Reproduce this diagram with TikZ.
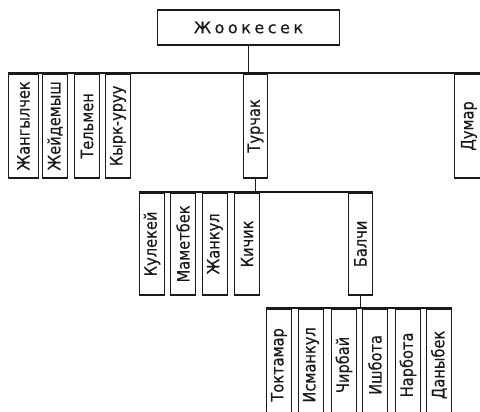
\documentclass[tikz,border=0pt]{standalone}
\usepackage{fontspec}
\setmainfont{DejaVu Sans}
\usetikzlibrary{positioning,calc}
\definecolor{ink}{HTML}{1A1A1A}
\definecolor{paper}{HTML}{FFFFFF}
\tikzset{
  head/.style={draw=ink, line width=1.8pt, fill=paper, minimum width=182pt, minimum height=35pt, inner sep=0pt, text=ink,
    font=\fontsize{16}{18}\selectfont\addfontfeature{LetterSpace=22,FakeBold=0.5}},
  tribe/.style={draw=ink, line width=1.8pt, fill=paper, rotate=90, anchor=east, minimum width=104pt, minimum height=25pt,
    inner sep=0pt, text=ink, font=\fontsize{17}{19}\selectfont\addfontfeature{FakeStretch=0.86,FakeBold=0.5}},
  link/.style={line width=1.8pt, draw=ink},
}
\begin{document}
\begin{tikzpicture}[x=1pt, y=-1pt]
\useasboundingbox (0,0) rectangle (480,412);
\clip (0,0) rectangle (480,412);

% ---------------- ancestor ----------------
\node[head] (root) at (248.5,27.5) {Жоокесек};

% ---------------- first generation ----------------
\foreach \n/\x/\w/\t in {a1/23.5/30/Жангылчек, a2/55/25/Жейдемыш, a3/87/25/Тельмен, a4/118/25/Кырк-уруу,
    turchak/255.5/24/Турчак, dumar/469/29/Думар}
  \node[tribe, minimum height=\w pt] (\n) at (\x,73) {\t};

% ---------------- sons of Turchak ----------------
\foreach \n/\x/\w/\t in {b1/152/25/Кулекей, b2/183/25/Маметбек, b3/215/25/Жанкул, b4/247/25/Кичик, balchi/360.5/24/Балчи}
  \node[tribe, minimum width=102pt, minimum height=\w pt] (\n) at (\x,192) {\t};

% ---------------- sons of Balchi ----------------
\foreach \n/\x/\t in {c1/279/Токтамар, c2/311/Исманкул, c3/344/Чирбай, c4/375/Ишбота, c5/408/Нарбота, c6/439/Даныбек}
  \node[tribe, minimum width=112pt] (\n) at (\x,308) {\t};

% ---------------- links ----------------
\coordinate (edge1) at (490,73);
\draw[link] (a1.north east) -- (edge1);
\draw[link] (root.south) -- (root.south |- a1.east);
\draw[link] (b1.north east) -- (balchi.south east);
\draw[link] (turchak.west) -- (turchak.west |- b1.east);
\draw[link] (c1.north east) -- (c6.south east);
\draw[link] (balchi.west) -- (balchi.west |- c1.east);

\end{tikzpicture}
\end{document}
